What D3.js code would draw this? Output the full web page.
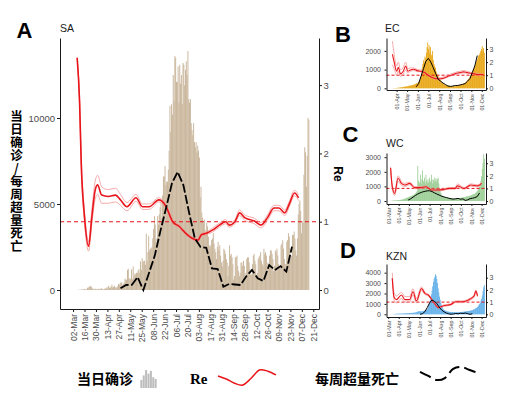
<!DOCTYPE html>
<html>
<head>
<meta charset="utf-8">
<title>SA cases, Re and excess deaths</title>
<script src="https://cdn.jsdelivr.net/npm/d3@7/dist/d3.min.js"></script>
<style>
  body { margin: 0; background: #fff; }
  text { font-family: "Liberation Sans", Arial, sans-serif; }
  .axis text { fill: #4d4d4d; }
  .axis path, .axis line { stroke: #1a1a1a; }
  .cjk { font-family: "Noto Sans CJK SC", sans-serif; font-weight: 700; }
</style>
</head>
<body>
<svg id="chart" width="515" height="395"></svg>
<script>
// ---- SA: daily confirmed cases from 1 Mar 2020 ----
var saStart = "03-01";
var saCases = [
  1, 0, 1, 1, 1, 3, 6,
  7, 14, 14, 27, 13, 31, 31,
  50, 52, 36, 34, 128, 152, 155,
  218, 243, 170, 83, 46, 82, 27,
  70, 43, 42, 63, 72, 31, 63,
  96, 75, 25, 45, 67, 99, 86,
  178, 88, 251, 124, 142, 200, 318,
  136, 187, 247, 143, 145, 154, 212,
  354, 297, 385, 447, 437, 267, 374,
  424, 663, 595, 595, 1160, 1240, 698,
  600, 660, 1200, 620, 1370, 770, 960,
  900, 1000, 990, 1120, 1218, 1000, 1670,
  1170, 1850, 1600, 1700, 1700, 1460, 3270,
  1700, 2200, 3150, 2300, 2400, 2430, 2500,
  3000, 3550, 4300, 3800, 2800, 3000, 4300,
  3800, 4400, 4800, 5100, 4200, 5500, 6600,
  6600, 7200, 6100, 6300, 6300, 7000, 8100,
  10700, 9200, 10800, 10200, 12500, 11000, 13600,
  13500, 12100, 12100, 13000, 10900, 13100, 12000,
  12500, 10800, 13200, 13100, 11900, 12800, 13300,
  12500, 13900, 11100, 10900, 11100, 9700, 9300,
  9000, 9700, 8600, 8300, 8600, 8000, 8400,
  8100, 7700, 5400, 6000, 4500, 4200, 3900,
  4100, 3500, 3300, 3900, 3700, 3100, 2600,
  2500, 2600, 2900, 3000, 3300, 2700, 2400,
  2200, 1800, 2500, 2800, 2300, 2600, 2000,
  1600, 1400, 1700, 2400, 2300, 2100, 1800,
  1600, 800, 1400, 2600, 2000, 2100, 1900,
  1500, 600, 800, 1900, 1900, 2000, 1400,
  1100, 800, 1000, 1600, 1600, 1400, 1700,
  1400, 800, 1000, 1800, 1900, 1900, 1600,
  1200, 900, 900, 1500, 2000, 2100, 1700,
  1500, 800, 1000, 1800, 1900, 2000, 2200,
  1700, 1500, 1400, 2400, 2100, 2200, 2000,
  1600, 1300, 1300, 2000, 2300, 2300, 2100,
  1800, 1100, 1400, 2300, 2200, 2400, 2000,
  1500, 1300, 1300, 2600, 2700, 2900, 2400,
  1800, 1500, 1500, 2800, 2900, 3300, 3100,
  2400, 1900, 2000, 3200, 3200, 3400, 3000,
  2300, 2000, 3000, 4400, 5000, 5200, 4600,
  3300, 4000, 3900, 6700, 8300, 8000, 6000,
  7800, 10000, 9900
];
var saReDates = ["03-07", "03-10", "03-12", "03-16", "03-21", "03-25", "03-29", "04-01", "04-06", "04-14",
  "04-23", "04-29", "05-07", "05-18", "05-26", "06-03", "06-15", "06-23", "07-02", "07-10",
  "07-18", "07-27", "08-02", "08-06", "08-12", "08-20", "08-28", "09-05", "09-09", "09-16",
  "09-22", "09-28", "10-10", "10-18", "10-26", "11-03", "11-09", "11-16", "11-22", "11-28", "12-03"];
var saRe = [3.40, 2.74, 1.86, 1.07, 0.64, 1.07, 1.46, 1.54, 1.39, 1.37, 1.39, 1.32, 1.22, 1.35, 1.22, 1.22, 1.32, 1.24, 1.00, 0.93,
  0.83, 0.75, 0.73, 0.81, 0.83, 0.88, 0.95, 1.00, 0.95, 1.00, 1.13, 1.06, 1.01, 0.95, 1.06, 1.20, 1.20, 1.13, 1.27, 1.42, 1.35];
var saReLo = [3.40, 2.69, 1.78, 0.99, 0.57, 0.97, 1.33, 1.40, 1.27, 1.27, 1.29, 1.24, 1.16, 1.30, 1.18, 1.18, 1.29, 1.21, 0.97, 0.91,
  0.81, 0.73, 0.71, 0.79, 0.81, 0.85, 0.92, 0.97, 0.92, 0.97, 1.09, 1.02, 0.97, 0.91, 1.02, 1.16, 1.16, 1.09, 1.23, 1.38, 1.31];
var saReHi = [3.40, 2.79, 1.94, 1.15, 0.71, 1.17, 1.59, 1.68, 1.51, 1.47, 1.49, 1.40, 1.28, 1.40, 1.26, 1.26, 1.35, 1.27, 1.03, 0.95,
  0.85, 0.77, 0.75, 0.83, 0.85, 0.91, 0.98, 1.03, 0.98, 1.03, 1.17, 1.10, 1.05, 0.99, 1.10, 1.24, 1.24, 1.17, 1.31, 1.46, 1.39];
// weekly excess deaths, first week 29 Apr
var saDeathStart = "04-29";
var saDeaths = [100, 290, 300, 750, 0, 1000, 2000, 3450, 4800, 6200, 6870, 6100, 4500, 3000, 2500, 2450,
  1250, 1220, 190, 350, 320, 290, 800, 1160, 680, 520, 1450, 1160, 1390, 1070, 2520];

// ---- EC: cases per two days from 14 Mar ----
var ecStart = "03-14";
var ecCases = [
  1, 2, 3, 5, 8, 10, 12, 10, 15,
  20, 25, 30, 35, 40, 45, 50, 60, 60, 70, 80, 90, 80, 100, 110,
  100, 120, 130, 150, 140, 160, 150, 170, 180, 200, 210, 230, 250, 260, 280, 300,
  350, 400, 450, 600, 800, 1100, 1300, 1500, 1400, 1700, 1600, 1900, 2200, 2450, 2100,
  2300, 1900, 2200, 1800, 1700, 2000, 1500, 1300, 1200, 1100, 900, 800, 700, 650, 550,
  500, 450, 380, 300, 280, 250, 220, 200, 180, 170, 160, 150, 150, 140, 130, 130,
  120, 110, 110, 100, 110, 100, 110, 120, 120, 130, 140, 150, 160, 170, 180,
  190, 200, 220, 240, 260, 280, 300, 340, 380, 420, 470, 520, 580, 650, 720,
  800, 900, 950, 1000, 1100, 1250, 1300, 1450, 1550, 1650, 1750, 1800, 1900, 2000, 2100,
  2260, 2000, 2150, 1900
];
var ecReDates = ["03-20", "03-25", "04-01", "04-06", "04-12", "04-20", "04-27", "05-03", "05-10", "05-20",
  "05-30", "06-10", "06-20", "06-30", "07-10", "07-20", "07-30", "08-10", "08-20", "08-30",
  "09-10", "09-20", "09-30", "10-10", "10-20", "10-30", "11-10", "11-20", "11-30", "12-05"];
var ecRe = [2.6, 2.0, 1.3, 1.6, 1.1, 1.3, 1.7, 1.3, 1.4, 1.45, 1.35, 1.3, 1.2, 1.0, 0.85, 0.75, 0.72, 0.75, 0.85, 0.95,
  1.05, 1.15, 1.2, 1.25, 1.2, 1.15, 1.1, 1.05, 1.05, 1.05];
var ecReLo = [1.8, 1.5, 1.0, 1.3, 0.9, 1.1, 1.4, 1.15, 1.3, 1.35, 1.28, 1.25, 1.15, 0.95, 0.8, 0.7, 0.67, 0.7, 0.8, 0.9,
  1.0, 1.08, 1.12, 1.18, 1.14, 1.1, 1.05, 1.0, 1.0, 1.0];
var ecReHi = [3.6, 2.6, 1.7, 2.0, 1.4, 1.6, 2.0, 1.5, 1.55, 1.55, 1.45, 1.38, 1.27, 1.07, 0.92, 0.82, 0.8, 0.83, 0.95, 1.05,
  1.15, 1.25, 1.3, 1.35, 1.3, 1.22, 1.17, 1.12, 1.1, 1.1];
var ecDeathStart = "05-27";
var ecDeaths = [80, 250, 650, 1050, 1450, 1600, 1400, 1100, 780, 480, 380, 280, 200, 120, 100, 120,
  150, 150, 180, 210, 250, 380, 520, 850, 1200, 1750];

// ---- WC: cases per two days from 1 Mar ----
var wcStart = "03-01";
var wcCases = [
  2, 3, 5, 10, 15, 20, 25, 30, 35, 40, 40, 45, 50, 50, 55, 60,
  60, 70, 80, 90, 100, 110, 120, 140, 160, 180, 200, 220, 240, 260, 280,
  300, 320, 340, 360, 380, 400, 420, 450, 500, 550, 600, 700, 2400, 1400, 1200,
  1300, 1800, 1200, 1500, 2100, 1400, 1300, 1600, 1200, 1800, 1400, 1300, 1500, 1250, 1600,
  1400, 1300, 1800, 1500, 1200, 1450, 1300, 1600, 1400, 1550, 1300, 1500, 1600, 1200, 900, 700,
  550, 450, 380, 330, 300, 280, 270, 260, 250, 240, 230, 220, 220, 210, 200,
  200, 190, 180, 180, 170, 170, 170, 180, 180, 190, 190, 200, 200, 210, 220,
  220, 230, 240, 250, 260, 270, 280, 300, 310, 320, 330, 340, 350, 360, 380, 400,
  420, 440, 460, 480, 500, 550, 600, 650, 700, 800, 900, 1000, 1200, 1400, 1700,
  2200, 2600, 3200, 2900
];
var wcReDates = ["03-08", "03-13", "03-20", "03-30", "04-09", "04-19", "05-03", "05-18", "06-02", "06-21",
  "07-06", "07-21", "08-09", "08-28", "09-14", "09-21", "10-11", "10-30", "11-19", "12-01"];
var wcRe = [2.64, 1.13, 0.6, 1.8, 1.4, 1.27, 1.4, 1.06, 1.06, 1.13, 0.87, 0.87, 0.9, 1.0, 1.0, 1.2, 1.0, 1.27, 1.2, 1.4];
var wcReLo = [2.64, 0.95, 0.45, 1.55, 1.25, 1.15, 1.3, 0.98, 0.98, 1.05, 0.8, 0.8, 0.84, 0.94, 0.94, 1.1, 0.94, 1.18, 1.12, 1.32];
var wcReHi = [2.64, 1.3, 0.75, 2.0, 1.55, 1.4, 1.5, 1.14, 1.14, 1.2, 0.94, 0.94, 0.96, 1.06, 1.06, 1.35, 1.06, 1.36, 1.28, 1.48];
var wcDeathStart = "04-29";
var wcDeaths = [70, 150, 260, 380, 480, 560, 620, 660, 700, 700, 650, 560, 480, 410, 330, 280,
  240, 190, 150, 130, 150, 180, 120, 150, 40, 80, 160, 190, 230, 300, 550];

// ---- KZN: cases per two days from 3 Mar ----
var kznStart = "03-03";
var kznCases = [
  1, 2, 3, 5, 8, 10, 15, 20, 30, 40, 50, 50, 60, 60, 60,
  60, 60, 70, 70, 70, 80, 80, 80, 90, 90, 100, 100, 100, 110, 110,
  120, 120, 130, 130, 140, 140, 150, 160, 170, 180, 200, 220, 250, 280, 300,
  300, 280, 260, 280, 300, 320, 340, 360, 380, 400, 420, 480, 600, 800, 1000,
  1300, 1600, 1900, 2300, 2700, 3100, 3400, 3600, 3850, 3700, 3400, 3000, 2500, 2100, 1700, 1400,
  1100, 900, 700, 550, 450, 400, 350, 320, 300, 280, 260, 250, 240, 230, 220,
  220, 215, 210, 205, 200, 200, 195, 190, 190, 190, 200, 200, 210, 210, 220,
  220, 230, 230, 240, 250, 260, 270, 280, 290, 300, 310, 320, 330, 340, 360, 380,
  400, 420, 450, 480, 520, 560, 600, 650, 700, 800, 900, 1000, 1100, 1300, 1500,
  1800, 2200, 2600, 2800
];
var kznReDates = ["03-13", "03-18", "03-25", "04-09", "04-19", "05-03", "05-13", "05-23", "06-07", "06-17",
  "06-27", "07-12", "07-27", "08-11", "09-01", "09-16", "10-06", "10-25", "11-09", "11-14", "11-19"];
var kznRe = [2.95, 1.44, 1.2, 1.58, 1.2, 1.2, 1.85, 1.1, 2.1, 1.72, 1.58, 1.03, 0.55, 0.7, 0.8, 1.03, 1.03, 1.2, 1.5, 1.9, 1.5];
var kznReLo = [2.95, 1.2, 0.95, 1.3, 1.0, 1.0, 1.6, 0.95, 1.95, 1.62, 1.5, 0.98, 0.5, 0.65, 0.74, 0.96, 0.96, 1.12, 1.4, 1.8, 1.42];
var kznReHi = [3.4, 1.8, 1.5, 1.8, 1.45, 1.45, 2.1, 1.3, 2.25, 1.82, 1.66, 1.08, 0.6, 0.76, 0.86, 1.1, 1.1, 1.28, 1.6, 2.0, 1.58];
var kznDeathStart = "06-03";
var kznDeaths = [0, 60, 250, 650, 1100, 1375, 1250, 1050, 700, 420, 250, 120, 50, 0, 30, 80, 50, 100, 80, 120, 60, 0, 50];

// legend glyph samples
var legendBars = [0.45, 0.7, 1, 0.8, 0.95, 0.6, 0.5];
var legendRe = [0.6, 0.4, 0.12, 0, 0.45, 1, 0.92, 0.67];
var legendDeaths = [0.62, 0.31, 0, 0.15, 0.85, 1, 0.77, 0.54];

var RED = "#e8151b", PINK = "#f29696";
var svg = d3.select("#chart");
var parseDay = d3.utcParse("%Y-%m-%d");
function md(s) { return parseDay("2020-" + s); }
var fmt = d3.utcFormat("%d-%b");

function styleAxis(sel, size) {
  sel.attr("class", "axis").attr("font-family", null).attr("font-size", null);
  sel.selectAll("text").style("font-size", size + "px");
}

function panel(p) {
  var g = svg.append("g");
  var x = d3.scaleUtc().domain([md(p.xFrom), md(p.xTo)]).range([p.left, p.right]);
  var y = d3.scaleLinear().domain(p.yDom).range([p.bottom, p.top]);
  var yRe = d3.scaleLinear().domain(p.reDom).range([p.bottom, p.top]);
  var s0 = md(p.caseStart);
  var dayOf = function(i) { return d3.utcDay.offset(s0, i * p.step); };

  // bars overlap slightly so that no seams show between neighbours
  g.append("g").selectAll("rect").data(p.cases).join("rect")
    .attr("x", function(d, i) { return x(dayOf(i)); })
    .attr("width", function(d, i) { return (x(dayOf(i + 1)) - x(dayOf(i))) * p.barFill; })
    .attr("y", function(d) { return y(d); })
    .attr("height", function(d) { return y(0) - y(d); })
    .attr("fill", p.barColor);

  g.append("line")
    .attr("x1", p.left).attr("x2", p.right)
    .attr("y1", yRe(1)).attr("y2", yRe(1))
    .attr("stroke", RED).attr("stroke-width", p.hW).attr("stroke-dasharray", p.hDash);

  var pts = p.reDates.map(function(d, i) {
    return { t: md(d), mid: p.re[i], lo: p.reLo[i], hi: p.reHi[i] };
  });
  ["lo", "hi"].forEach(function(k) {
    g.append("path").datum(pts)
      .attr("fill", "none").attr("stroke", PINK).attr("stroke-width", p.ciW)
      .attr("d", d3.line().x(function(d) { return x(d.t); }).y(function(d) { return yRe(d[k]); }).curve(d3.curveMonotoneX));
  });
  g.append("path").datum(pts)
    .attr("fill", "none").attr("stroke", RED).attr("stroke-width", p.reW)
    .attr("d", d3.line().x(function(d) { return x(d.t); }).y(function(d) { return yRe(d.mid); }).curve(d3.curveMonotoneX));

  var d0 = md(p.deathStart);
  g.append("path").datum(p.deaths)
    .attr("fill", "none").attr("stroke", "#000").attr("stroke-width", p.dW)
    .attr("stroke-dasharray", p.dDash)
    .attr("d", d3.line()
      .x(function(d, i) { return x(d3.utcDay.offset(d0, 7 * i)); })
      .y(function(d) { return y(d); }));

  g.append("g").attr("transform", "translate(" + p.left + ",0)")
    .call(d3.axisLeft(y).tickValues(p.yTicks).tickFormat(d3.format("d"))
      .tickSize(p.tick).tickSizeOuter(0).tickPadding(p.padL))
    .call(styleAxis, p.font);
  g.append("g").attr("transform", "translate(" + p.right + ",0)")
    .call(d3.axisRight(yRe).tickValues([0, 1, 2, 3]).tickFormat(d3.format("d"))
      .tickSize(p.tick).tickSizeOuter(0).tickPadding(p.padR))
    .call(styleAxis, p.font);
  var xa = g.append("g").attr("transform", "translate(0," + p.bottom + ")")
    .call(d3.axisBottom(x).tickValues(p.xTicks).tickFormat(fmt)
      .tickSize(p.tick).tickSizeOuter(0))
    .call(styleAxis, p.xFont);
  xa.selectAll("text")
    .attr("transform", "rotate(-90)")
    .attr("x", -(p.tick + p.padX)).attr("y", 0).attr("dy", "0.35em")
    .style("text-anchor", "end");

  svg.append("text").attr("x", p.letterX).attr("y", p.letterY)
    .style("font-size", "22px").style("font-weight", "bold").text(p.letter);
  svg.append("text").attr("x", p.nameX).attr("y", p.nameY)
    .style("font-size", "10.5px").attr("fill", "#1a1a1a").text(p.name);
}

var big = { tick: 3, padL: 2, padR: 1.5, padX: 2, font: 9.5, xFont: 8.5,
  hW: 1.1, hDash: "4,3", ciW: 0.8, reW: 1.6, dW: 1.8, dDash: "9,2.5" };
var small = { tick: 2, padL: 3.5, padR: 1.5, padX: 1.5, font: 7, xFont: 5.3,
  hW: 1, hDash: "3,2", ciW: 0.8, reW: 1.1, dW: 1, dDash: null, step: 2, barFill: 1.15 };

panel(Object.assign({}, big, {
  letter: "A", letterX: 16.5, letterY: 38.3, name: "SA", nameX: 60, nameY: 32.3,
  left: 60, right: 319, top: 38, bottom: 309,
  xFrom: "02-15", xTo: "12-28", yDom: [-1105, 14651], reDom: [-0.278, 3.69],
  yTicks: [0, 5000, 10000], xTicks: d3.utcDay.range(md("03-02"), md("12-22"), 14),
  caseStart: saStart, cases: saCases, step: 1, barFill: 1.15, barColor: "#c8b499",
  reDates: saReDates, re: saRe, reLo: saReLo, reHi: saReHi,
  deathStart: saDeathStart, deaths: saDeaths
}));
panel(Object.assign({}, small, {
  letter: "B", letterX: 335, letterY: 41.7, name: "EC", nameX: 385, nameY: 31.7,
  left: 386.5, right: 486, top: 38, bottom: 90,
  xFrom: "03-03", xTo: "12-13", yDom: [-91, 2690], reDom: [-0.13, 3.84],
  yTicks: [0, 1000, 2000], xTicks: d3.utcMonth.range(md("04-01"), md("12-02")),
  caseStart: ecStart, cases: ecCases, barColor: "#e69f00",
  reDates: ecReDates, re: ecRe, reLo: ecReLo, reHi: ecReHi,
  deathStart: ecDeathStart, deaths: ecDeaths
}));
panel(Object.assign({}, small, {
  letter: "C", letterX: 342.5, letterY: 141.7, name: "WC", nameX: 386, nameY: 146.7,
  left: 386.5, right: 486, top: 153, bottom: 204,
  xFrom: "02-25", xTo: "12-14", yDom: [-205, 3288], reDom: [-0.238, 3.81],
  yTicks: [0, 1000, 2000, 3000], xTicks: d3.utcMonth.range(md("03-01"), md("12-02")),
  caseStart: wcStart, cases: wcCases, barColor: "#93ca8c",
  reDates: wcReDates, re: wcRe, reLo: wcReLo, reHi: wcReHi,
  deathStart: wcDeathStart, deaths: wcDeaths
}));
panel(Object.assign({}, small, {
  letter: "D", letterX: 340, letterY: 258.3, name: "KZN", nameX: 386, nameY: 259.5,
  left: 386.5, right: 486, top: 264, bottom: 317,
  xFrom: "02-25", xTo: "12-14", yDom: [-260, 4836], reDom: [-0.22, 4.12],
  yTicks: [0, 1000, 2000, 3000, 4000], xTicks: d3.utcMonth.range(md("03-01"), md("12-02")),
  caseStart: kznStart, cases: kznCases, barColor: "#55a9e8",
  reDates: kznReDates, re: kznRe, reLo: kznReLo, reHi: kznReHi,
  deathStart: kznDeathStart, deaths: kznDeaths
}));

// left axis title, one vertical text run
svg.append("text").attr("class", "cjk")
  .attr("x", 16.5).attr("y", 110)
  .style("writing-mode", "vertical-rl").style("text-orientation", "upright")
  .style("font-size", "12.5px").style("letter-spacing", "0.5px")
  .text("当日确诊/每周超量死亡");
// right axis title
svg.append("text").attr("transform", "translate(334,174) rotate(90)")
  .attr("text-anchor", "middle").style("font-size", "12px").style("font-weight", "bold").text("Re");

// legend
svg.append("text").attr("class", "cjk").attr("x", 77).attr("y", 384).style("font-size", "14px").text("当日确诊");
var lbx = d3.scaleBand().domain(d3.range(legendBars.length)).range([140, 157]).padding(0.15);
var lby = d3.scaleLinear().domain([0, 1]).range([388, 370]);
svg.append("g").selectAll("rect").data(legendBars).join("rect")
  .attr("x", function(d, i) { return lbx(i); }).attr("width", lbx.bandwidth())
  .attr("y", function(d) { return lby(d); }).attr("height", function(d) { return lby(0) - lby(d); })
  .attr("fill", "#bdbdbd");

svg.append("text").attr("x", 190).attr("y", 384)
  .style("font-family", "'Liberation Serif', 'DejaVu Serif', serif").style("font-size", "15px").style("font-weight", "bold").text("Re");
var lrx = d3.scaleLinear().domain([0, legendRe.length - 1]).range([218, 276]);
var lry = d3.scaleLinear().domain([0, 1]).range([385, 370]);
svg.append("path").datum(legendRe).attr("fill", "none").attr("stroke", RED).attr("stroke-width", 1.5)
  .attr("d", d3.line().x(function(d, i) { return lrx(i); }).y(function(d) { return lry(d); }).curve(d3.curveCardinal));

svg.append("text").attr("class", "cjk").attr("x", 315).attr("y", 384).style("font-size", "14px").text("每周超量死亡");
var ldx = d3.scaleLinear().domain([0, legendDeaths.length - 1]).range([420, 478]);
var ldy = d3.scaleLinear().domain([0, 1]).range([380, 367]);
svg.append("path").datum(legendDeaths).attr("fill", "none").attr("stroke", "#000").attr("stroke-width", 2)
  .attr("stroke-dasharray", "12,5")
  .attr("d", d3.line().x(function(d, i) { return ldx(i); }).y(function(d) { return ldy(d); }).curve(d3.curveCardinal));
</script>
</body>
</html>
